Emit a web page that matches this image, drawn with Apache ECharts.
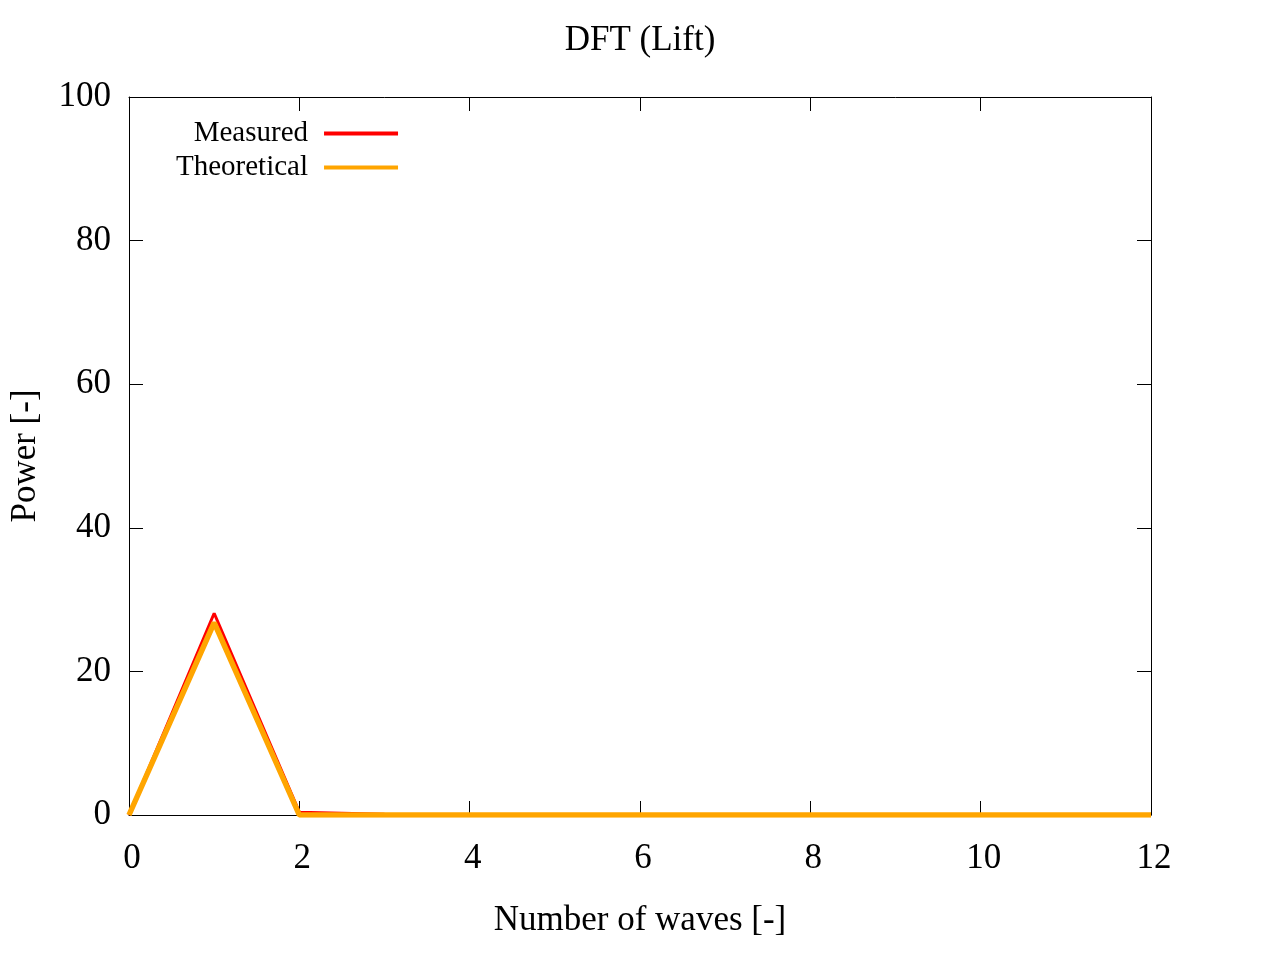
<!DOCTYPE html>
<html>
<head>
<meta charset="utf-8">
<script src="https://cdn.jsdelivr.net/npm/echarts@6/dist/echarts.min.js"></script>
<style>
  html, body { margin: 0; padding: 0; background: #fff; }
  #main { width: 1280px; height: 960px; }
</style>
</head>
<body>
<div id="main"></div>
<script>
// number of waves 0..12
var waves = [0, 1, 2, 3, 4, 5, 6, 7, 8, 9, 10, 11, 12];
var measured = [0, 28.1, 0.4, 0.1, 0, 0, 0, 0, 0, 0, 0, 0, 0];
var theoretical = [0, 26.8, 0, 0, 0, 0, 0, 0, 0, 0, 0, 0, 0];
var seriesNames = ['Measured', 'Theoretical'];

var chart = echarts.init(document.getElementById('main'));
var font = 'Liberation Serif';

function pairs(ys) {
  return waves.map(function (x, i) { return [x, ys[i]]; });
}

// mirror axes (top/right) only carry tick marks
var tickOnly = {
  axisLine: { show: true, onZero: false, lineStyle: { color: '#000', width: 1 } },
  axisTick: { show: true, inside: true, length: 14, lineStyle: { color: '#000' } },
  axisLabel: { show: false },
  splitLine: { show: false }
};

var option = {
  backgroundColor: '#fff',
  animation: false,
  title: {
    text: 'DFT (Lift)',
    left: 'center',
    top: 18,
    textStyle: { fontFamily: font, fontSize: 35, fontWeight: 'normal', color: '#000' }
  },
  legend: {
    orient: 'vertical',
    left: 171,
    top: 114,
    align: 'right',
    itemWidth: 74,
    itemHeight: 4,
    itemGap: 5,
    icon: 'rect',
    data: seriesNames,
    textStyle: { fontFamily: font, fontSize: 29, color: '#000', padding: [0, 11, 0, 0] }
  },
  grid: { left: 128, right: 129, top: 97, bottom: 145 },
  xAxis: [{
    type: 'value',
    min: 0, max: 12, interval: 2,
    name: 'Number of waves [-]',
    nameLocation: 'middle',
    nameGap: 88,
    nameTextStyle: { fontFamily: font, fontSize: 35, color: '#000' },
    axisLine: { show: true, onZero: false, lineStyle: { color: '#000', width: 1 } },
    axisTick: { show: true, inside: true, length: 14, lineStyle: { color: '#000' } },
    axisLabel: { fontFamily: font, fontSize: 35, color: '#000', margin: 26, padding: [0, 0, 0, 6] },
    splitLine: { show: false }
  }, Object.assign({
    type: 'value', position: 'top', min: 0, max: 12, interval: 2
  }, tickOnly)],
  yAxis: [{
    type: 'value',
    min: 0, max: 100, interval: 20,
    name: 'Power [-]',
    nameLocation: 'middle',
    nameGap: 86,
    nameTextStyle: { fontFamily: font, fontSize: 35, color: '#000' },
    axisLine: { show: true, onZero: false, lineStyle: { color: '#000', width: 1 } },
    axisTick: { show: true, inside: true, length: 14, lineStyle: { color: '#000' } },
    axisLabel: { fontFamily: font, fontSize: 35, color: '#000', margin: 18 },
    splitLine: { show: false }
  }, Object.assign({
    type: 'value', position: 'right', min: 0, max: 100, interval: 20
  }, tickOnly)],
  series: [{
    name: seriesNames[0],
    type: 'line',
    data: pairs(measured),
    showSymbol: false,
    color: '#ff0000',
    lineStyle: { color: '#ff0000', width: 3 }
  }, {
    name: seriesNames[1],
    type: 'line',
    data: pairs(theoretical),
    showSymbol: false,
    color: '#ffa500',
    lineStyle: { color: '#ffa500', width: 5.5 }
  }]
};

chart.setOption(option);
</script>
</body>
</html>
